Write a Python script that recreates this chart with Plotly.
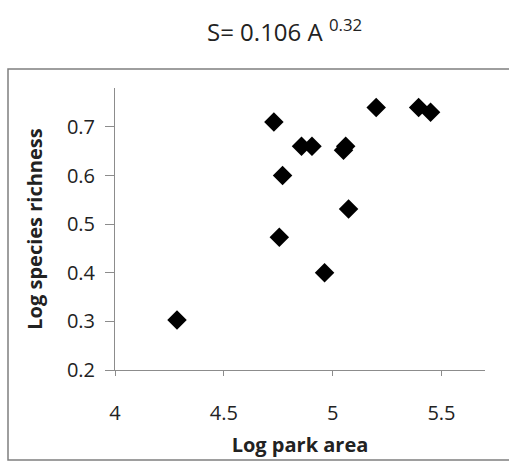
import plotly.graph_objects as go

log_area = [4.73, 4.857, 4.905, 4.77, 5.06, 5.05, 5.20, 5.395, 5.45, 5.073, 4.755, 4.963, 4.285]
log_richness = [0.71, 0.66, 0.66, 0.60, 0.66, 0.652, 0.74, 0.74, 0.73, 0.531, 0.473, 0.40, 0.303]

x_ticks = [4, 4.5, 5, 5.5]
y_ticks = [0.2, 0.3, 0.4, 0.5, 0.6, 0.7]

FONT = "Open Sans"
AX = "#8c8c8c"

fig = go.Figure()
fig.add_trace(go.Scatter(
    x=log_area, y=log_richness, mode="markers",
    marker=dict(symbol="diamond", size=15, color="black"),
    showlegend=False,
))

L, R, T, B = 115, 24, 88, 93
W, H = 509, 463
pw, ph = W - L - R, H - T - B

def px(xp):
    return (xp - L) / pw

def py(yp):
    return (H - B - yp) / ph

fig.add_shape(type="rect", xref="paper", yref="paper",
              x0=px(8), x1=px(512), y0=py(460), y1=py(69),
              line=dict(color="#7f7f7f", width=1.5), fillcolor="rgba(0,0,0,0)", layer="below")

fig.add_annotation(xref="paper", yref="paper", x=px(284), y=py(30),
                   text="S= 0.106 A <sup>0.32</sup>", showarrow=False,
                   font=dict(family=FONT, size=24, color="#222"), xanchor="center", yanchor="middle")

fig.update_layout(
    width=W, height=H,
    margin=dict(l=L, r=R, t=T, b=B, pad=0),
    paper_bgcolor="white", plot_bgcolor="white",
    font=dict(family=FONT, color="#222"),
    xaxis=dict(range=[4, 5.7], tickvals=x_ticks, ticktext=[str(v) for v in x_ticks],
               showgrid=False, zeroline=False, showline=True, linecolor=AX, linewidth=1,
               ticks="outside", ticklen=5, tickcolor=AX, tickfont=dict(size=20),
               ticklabelstandoff=20,
               title=dict(text="<b>Log park area</b>", font=dict(size=20), standoff=12)),
    yaxis=dict(range=[0.2, 0.78], tickvals=y_ticks, ticktext=[str(v) for v in y_ticks],
               showgrid=False, zeroline=False, showline=True, linecolor=AX, linewidth=1,
               ticks="outside", ticklen=9, tickcolor=AX, tickfont=dict(size=20),
               ticklabelstandoff=6,
               title=dict(text="<b>Log species richness</b>", font=dict(size=20), standoff=18)),
)

fig.write_html("out.html", config={"displayModeBar": False},
               post_script="document.body.style.margin='0';")
